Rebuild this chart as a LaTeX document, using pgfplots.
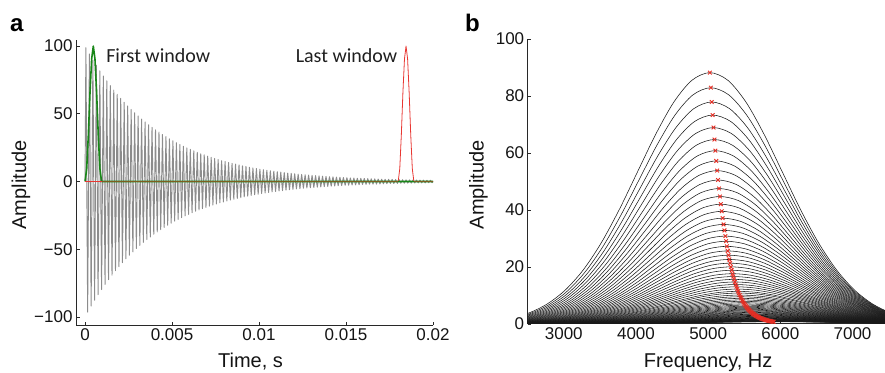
\documentclass[border=0pt]{standalone}
\usepackage{pgfplots}
\pgfplotsset{compat=1.18}
\usepackage{pgfplotstable}
\usepackage{fontspec}
\setmainfont{Liberation Sans}
\newfontfamily\calibri{Carlito}

\definecolor{sig}{RGB}{140,140,140}
\definecolor{wgreen}{RGB}{25,135,25}
\definecolor{wred}{RGB}{232,55,50}
\definecolor{olivez}{RGB}{125,95,30}
\definecolor{mred}{RGB}{230,45,35}
\definecolor{axc}{RGB}{40,40,40}

% peak positions (Hz) and heights of the spectra (red crosses)
\pgfplotstableread{
f h
5024 88.2
5037 82.9
5049 77.9
5062 73.3
5074 68.9
5087 64.7
5100 60.8
5112 57.2
5125 53.8
5137 50.5
5150 47.5
5163 44.7
5175 42.0
5188 39.5
5200 37.1
5213 34.9
5226 32.8
5238 30.8
5249 29.0
5260 27.2
5271 25.6
5282 24.1
5293 22.6
5304 21.3
5315 20.0
5326 18.8
5337 17.6
5348 16.6
5359 15.6
5370 14.7
5381 13.8
5392 13.0
5403 12.2
5414 11.4
5425 10.8
5436 10.1
5447 9.51
5458 8.94
5469 8.40
5480 7.90
5491 7.42
5502 6.98
5513 6.56
5524 6.17
5535 5.80
5546 5.45
5557 5.12
5568 4.81
5579 4.53
5590 4.25
5601 4.00
5612 3.76
5623 3.53
5634 3.32
5645 3.12
5656 2.93
5667 2.76
5678 2.59
5689 2.44
5700 2.29
5711 2.15
5722 2.02
5733 1.90
5744 1.79
5755 1.68
5766 1.58
5777 1.49
5788 1.40
5799 1.31
5810 1.23
5821 1.16
5832 1.09
5843 1.02
5854 0.96
5865 0.91
5876 0.85
5887 0.80
5898 0.75
5909 0.71
}\peaks

% normalised spectrum shape: offset from peak (Hz), relative amplitude
\pgfplotstableread{
d g
-3500 0.00219
-3250 0.00509
-3000 0.0111
-2750 0.0228
-2500 0.0439
-2250 0.0796
-2000 0.1353
-1750 0.2163
-1500 0.3247
-1250 0.4578
-1000 0.6065
-750 0.7548
-500 0.8825
-250 0.9692
0 1
250 0.9692
500 0.8825
750 0.7548
1000 0.6065
1250 0.4578
1500 0.3247
1750 0.2163
2000 0.1353
2250 0.0796
2500 0.0439
2750 0.0228
}\shapetab

\pgfplotsset{
  mystyle/.style={
    scale only axis,
    axis x line=bottom, axis y line=left,
    axis line style={-, axc, line width=0.7pt},
    tick align=inside, major tick length=3.5pt,
    tick style={axc, line width=0.6pt},
    ticklabel style={font=\fontsize{17}{17}\selectfont, text=black!92},
    label style={font=\fontsize{20}{20}\selectfont, text=black!92},
    /pgf/number format/assume math mode=true,
    /pgf/number format/set thousands separator={},
    scaled ticks=false,
    clip=true,
  },
  curve/.style={black!90, line width=0.55pt, mark=none, smooth, tension=0.5},
}

\begin{document}
\begin{tikzpicture}[x=1pt,y=1pt]
\useasboundingbox (0,0) rectangle (885,372);

% ---------------- panel a ----------------
\begin{axis}[mystyle,
  at={(76pt,47pt)}, anchor=south west,
  width=357pt, height=285pt,
  xmin=-0.52, xmax=20, ymin=-106, ymax=104.5,
  xtick={0,5,10,15,20}, xticklabels={0,0.005,0.01,0.015,0.02},
  ytick={-100,-50,0,50,100}, yticklabels={−100,−50,0,50,100},
  xlabel={Time, s}, ylabel={Amplitude},
  xlabel style={at={(axis description cs:0.489,-0.15)}, anchor=base, inner sep=0pt},
  ylabel style={at={(axis description cs:-0.154,0.491)}, anchor=center},
]
\addplot[sig, line width=0.95pt, line join=round, mark=none] coordinates {
(0,0) (0.05,98.8) (0.15,-96.5) (0.25,94.2) (0.35,-92.0) (0.45,89.8) (0.55,-87.7) (0.65,85.7) (0.75,-83.6) (0.85,81.7) (0.95,-79.8)
(1.05,77.9) (1.15,-76.0) (1.25,74.3) (1.35,-72.5) (1.45,70.8) (1.55,-69.1) (1.65,67.5) (1.75,-65.9) (1.85,64.4) (1.95,-62.9)
(2.05,61.4) (2.15,-59.9) (2.25,58.5) (2.35,-57.1) (2.45,55.8) (2.55,-54.5) (2.65,53.2) (2.75,-52.0) (2.85,50.7) (2.95,-49.5)
(3.05,48.4) (3.15,-47.2) (3.25,46.1) (3.35,-45.0) (3.45,44.0) (3.55,-42.9) (3.65,41.9) (3.75,-41.0) (3.85,40.0) (3.95,-39.0)
(4.05,38.1) (4.15,-37.2) (4.25,36.4) (4.35,-35.5) (4.45,34.7) (4.55,-33.9) (4.65,33.1) (4.75,-32.3) (4.85,31.5) (4.95,-30.8)
(5.05,30.1) (5.15,-29.3) (5.25,28.7) (5.35,-28.0) (5.45,27.3) (5.55,-26.7) (5.65,26.0) (5.75,-25.4) (5.85,24.8) (5.95,-24.3)
(6.05,23.7) (6.15,-23.1) (6.25,22.6) (6.35,-22.0) (6.45,21.5) (6.55,-21.0) (6.65,20.5) (6.75,-20.0) (6.85,19.6) (6.95,-19.1)
(7.05,18.7) (7.15,-18.2) (7.25,17.8) (7.35,-17.4) (7.45,17.0) (7.55,-16.6) (7.65,16.2) (7.75,-15.8) (7.85,15.4) (7.95,-15.1)
(8.05,14.7) (8.15,-14.4) (8.25,14.0) (8.35,-13.7) (8.45,13.4) (8.55,-13.1) (8.65,12.8) (8.75,-12.5) (8.85,12.2) (8.95,-11.9)
(9.05,11.6) (9.15,-11.3) (9.25,11.1) (9.35,-10.8) (9.45,10.5) (9.55,-10.3) (9.65,10.0) (9.75,-9.8) (9.85,9.6) (9.95,-9.4)
(10.05,9.1) (10.15,-8.9) (10.25,8.7) (10.35,-8.5) (10.45,8.3) (10.55,-8.1) (10.65,7.9) (10.75,-7.7) (10.85,7.6) (10.95,-7.4)
(11.05,7.2) (11.15,-7.0) (11.25,6.9) (11.35,-6.7) (11.45,6.5) (11.55,-6.4) (11.65,6.2) (11.75,-6.1) (11.85,6.0) (11.95,-5.8)
(12.05,5.7) (12.15,-5.5) (12.25,5.4) (12.35,-5.3) (12.45,5.2) (12.55,-5.0) (12.65,4.9) (12.75,-4.8) (12.85,4.7) (12.95,-4.6)
(13.05,4.5) (13.15,-4.4) (13.25,4.3) (13.35,-4.2) (13.45,4.1) (13.55,-4.0) (13.65,3.9) (13.75,-3.8) (13.85,3.7) (13.95,-3.6)
(14.05,3.5) (14.15,-3.4) (14.25,3.4) (14.35,-3.3) (14.45,3.2) (14.55,-3.1) (14.65,3.1) (14.75,-3.0) (14.85,2.9) (14.95,-2.8)
(15.05,2.8) (15.15,-2.7) (15.25,2.6) (15.35,-2.6) (15.45,2.5) (15.55,-2.5) (15.65,2.4) (15.75,-2.4) (15.85,2.3) (15.95,-2.2)
(16.05,2.2) (16.15,-2.1) (16.25,2.1) (16.35,-2.0) (16.45,2.0) (16.55,-1.9) (16.65,1.9) (16.75,-1.9) (16.85,1.8) (16.95,-1.8)
(17.05,1.7) (17.15,-1.7) (17.25,1.6) (17.35,-1.6) (17.45,1.6) (17.55,-1.5) (17.65,1.5) (17.75,-1.5) (17.85,1.4) (17.95,-1.4)
(18.05,1.4) (18.15,-1.3) (18.25,1.3) (18.35,-1.3) (18.45,1.2) (18.55,-1.2) (18.65,1.2) (18.75,-1.2) (18.85,1.1) (18.95,-1.1)
(19.05,1.1) (19.15,-1.0) (19.25,1.0) (19.35,-1.0) (19.45,1.0) (19.55,-1.0) (19.65,0.9) (19.75,-0.9) (19.85,0.9) (19.95,-0.9)
(20,0)
};
% first window (green)
\addplot[wgreen, line width=1.6pt, line join=round, mark=none] coordinates {
(0,0) (0.095,9.5) (0.19,34.5) (0.285,65.5) (0.38,90.5) (0.475,100) (0.57,90.5) (0.665,65.5) (0.76,34.5) (0.855,9.5) (0.95,0) (20,0)
};
% last window (red)
\addplot[wred, line width=0.8pt, line join=round, mark=none] coordinates {
(0,0) (18.0,0) (18.09,9.5) (18.18,34.5) (18.27,65.5) (18.36,90.5) (18.45,100) (18.54,90.5) (18.63,65.5) (18.72,34.5) (18.81,9.5) (18.9,0) (20,0)
};
% overlap of the two windows at zero
\addplot[olivez, line width=1.4pt, mark=none] coordinates {(0.95,0) (18.0,0)};
\addplot[olivez, line width=1.4pt, mark=none] coordinates {(18.9,0) (20,0)};
\addplot[wgreen, line width=1.4pt, mark=none] coordinates {(18.0,0) (18.9,0)};
\node[anchor=base west, inner sep=0pt, font=\calibri\fontsize{20}{20}\selectfont, text=black!88] at (axis cs:1.21,87.7) {First window};
\node[anchor=base west, inner sep=0pt, font=\calibri\fontsize{20}{20}\selectfont, text=black!88] at (axis cs:12.1,87.7) {Last window};
\end{axis}

% ---------------- panel b ----------------
\begin{axis}[mystyle,
  at={(527.7pt,48.2pt)}, anchor=south west,
  width=357.3pt, height=284.8pt,
  xmin=2500, xmax=7450, ymin=0, ymax=100,
  xtick={3000,4000,5000,6000,7000},
  ytick={0,20,40,60,80,100},
  xlabel={Frequency, Hz}, ylabel={Amplitude},
  xlabel style={at={(axis description cs:0.505,-0.155)}, anchor=base, inner sep=0pt},
  ylabel style={at={(axis description cs:-0.138,0.488)}, anchor=center},
]
\pgfplotsforeachungrouped \i in {0,...,78}{%
  \pgfplotstablegetelem{\i}{f}\of\peaks \let\cf\pgfplotsretval
  \pgfplotstablegetelem{\i}{h}\of\peaks \let\ch\pgfplotsretval
  \edef\doplot{\noexpand\addplot[curve] table[x expr=\noexpand\thisrow{d}+\cf, y expr=\noexpand\thisrow{g}*\ch] {\noexpand\shapetab};}%
  \doplot
}
\addplot[mred, only marks, mark=x, mark size=2.6pt, mark options={line width=0.9pt}] table[x=f, y=h] {\peaks};
\end{axis}

\node[anchor=base west, inner sep=0pt, font=\bfseries\fontsize{24}{24}\selectfont] at (10,340.3) {a};
\node[anchor=base west, inner sep=0pt, font=\bfseries\fontsize{24}{24}\selectfont] at (465,340.3) {b};
\end{tikzpicture}
\end{document}
